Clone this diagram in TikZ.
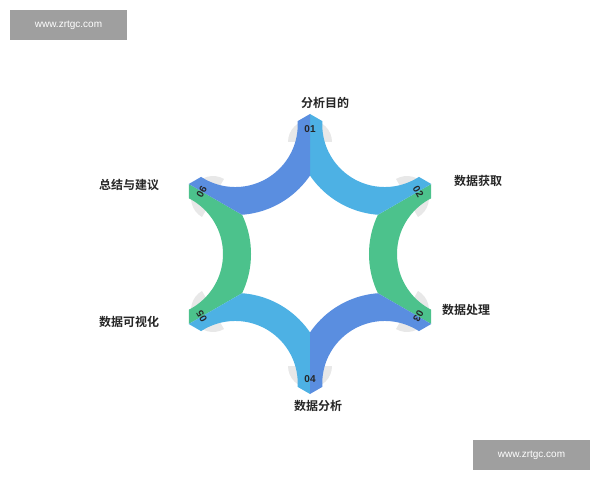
\documentclass[tikz,border=0pt]{standalone}
\usepackage{fontspec}
\usetikzlibrary{calc}
\setmainfont{Liberation Sans}
\newfontfamily\cjk{Noto Sans CJK SC}[BoldFont={* Bold}]
\begin{document}
\begin{tikzpicture}[x=1pt,y=1pt,
  band/.style={line width=28pt},
  tab/.style={fill=gray!18},
  num/.style={font=\bfseries\fontsize{10}{10}\selectfont, text=black!85},
  lbl/.style={font=\cjk\bfseries\fontsize{12}{12}\selectfont, text=black!85},
  wm/.style={fill=gray!75, text=white, font=\fontsize{10}{10}\selectfont, minimum width=117pt, minimum height=30pt, inner sep=0pt}]
\useasboundingbox (0,0) rectangle (600,480);
\definecolor{lb}{HTML}{4DB1E4}
\definecolor{db}{HTML}{5A8EE0}
\definecolor{gr}{HTML}{4CC28C}
\coordinate (O) at (310,226);
% tabs
\foreach \a in {90,30,-30,-90,210,150}{
  \begin{scope}[shift={($(O)+(\a:112)$)}, rotate=\a-90]
    \fill[tab] (-22,0) arc (180:0:22) -- cycle;
  \end{scope}
}
% bands: start angle / end angle / colour
\foreach \s/\e/\c in {30/-30/gr, 210/150/gr, 90/30/lb, 270/210/lb, 150/90/db, -30/-90/db}{
  \begin{scope}
    \clip (O) -- ($(O)+(\s:140)$) -- ($(O)+(\e:140)$) -- cycle;
    \draw[band, \c] ($(O)+({(\s+\e)/2}:149.5)$) circle (76.5);
  \end{scope}
}
% numbers
\node[num] (n1) at ($(O)+(90:125)$) {01};
\node[num, rotate=-60] (n2) at ($(O)+(30:125)$) {02};
\node[num, rotate=-120] (n3) at ($(O)+(-30:125)$) {03};
\node[num] (n4) at ($(O)+(-90:125)$) {04};
\node[num, rotate=120] (n5) at ($(O)+(210:125)$) {05};
\node[num, rotate=60] (n6) at ($(O)+(150:125)$) {06};
% labels
\node[lbl] (l1) at (325,377) {分析目的};
\node[lbl] (l2) at (478,299) {数据获取};
\node[lbl] (l3) at (466,170) {数据处理};
\node[lbl] (l4) at (318,74) {数据分析};
\node[lbl] (l5) at (129,158) {数据可视化};
\node[lbl] (l6) at (129,295) {总结与建议};
% watermarks
\node[wm] (w1) at (68.5,455) {www.zrtgc.com};
\node[wm] (w2) at (531.5,25) {www.zrtgc.com};
\end{tikzpicture}
\end{document}
